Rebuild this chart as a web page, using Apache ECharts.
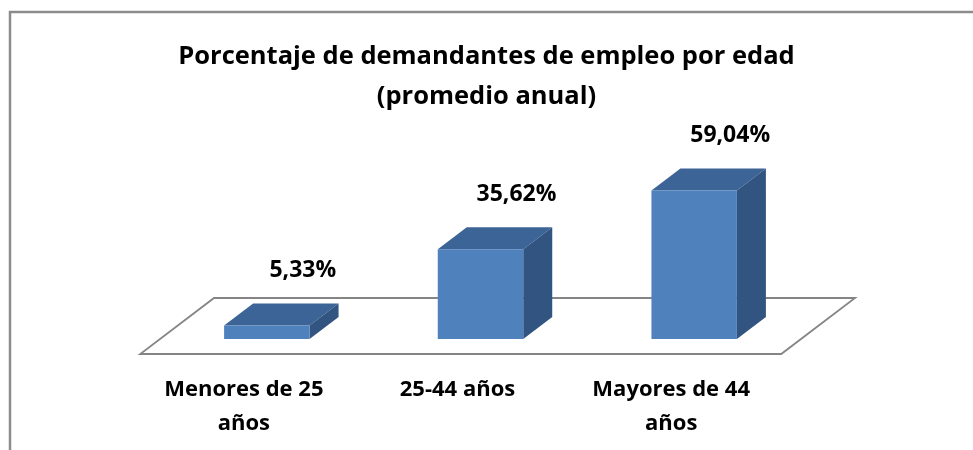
<!DOCTYPE html>
<html>
<head>
<meta charset="utf-8">
<script src="https://cdn.jsdelivr.net/npm/echarts@6/dist/echarts.min.js"></script>
<style>
  html, body { margin: 0; padding: 0; background: #fff; }
  #chart { width: 973px; height: 450px; }
</style>
</head>
<body>
<div id="chart"></div>
<script>
var categories = ["Menores de 25 años", "25-44 años", "Mayores de 44 años"];
var values = [5.33, 35.62, 59.04];

var FONT = "'Open Sans', 'DejaVu Sans', sans-serif";
// depth of the 3d boxes
var DEPTH_X = 29;
var DEPTH_Y = -22;
var FLOOR_FRONT = 15;
var FLOOR_BACK = 41;

function formatPct(v) {
    return v.toFixed(2).replace(".", ",") + "%";
}

function renderFloor(params) {
    var cs = params.coordSys;
    var bottom = cs.y + cs.height;
    var k = DEPTH_X / -DEPTH_Y;
    var fl = cs.x - FLOOR_FRONT * k, fr = cs.x + cs.width - FLOOR_FRONT * k;
    var bl = cs.x + FLOOR_BACK * k, br = cs.x + cs.width + FLOOR_BACK * k;
    return {
        type: "polygon",
        shape: {points: [[bl, bottom - FLOOR_BACK], [br, bottom - FLOOR_BACK],
                         [fr, bottom + FLOOR_FRONT], [fl, bottom + FLOOR_FRONT]]},
        style: {fill: "#fff", stroke: "#858585", lineWidth: 1.8}
    };
}

function renderBar(params, api) {
    var idx = api.value(0);
    var val = api.value(1);
    var base = api.coord([idx, 0]);
    var top = api.coord([idx, val]);
    var band = api.size([1, 0])[0];
    var w = band * 0.4;
    var x0 = base[0] - w / 2, x1 = base[0] + w / 2;
    var y0 = base[1], y1 = top[1];
    var children = [];
    if (params.dataIndex === 0) {
        children.push(renderFloor(params));
    }
    children.push({
        type: "polygon",
        shape: {points: [[x0, y1], [x0 + DEPTH_X, y1 + DEPTH_Y], [x1 + DEPTH_X, y1 + DEPTH_Y], [x1, y1]]},
        style: {fill: "#3c6496"}
    });
    children.push({
        type: "polygon",
        shape: {points: [[x1, y1], [x1 + DEPTH_X, y1 + DEPTH_Y], [x1 + DEPTH_X, y0 + DEPTH_Y], [x1, y0]]},
        style: {fill: "#325480"}
    });
    children.push({
        type: "rect",
        shape: {x: x0, y: y1, width: w, height: y0 - y1},
        style: {fill: "#4f81bd"}
    });
    children.push({
        type: "text",
        x: base[0] + 36,
        y: y1 - 55,
        style: {
            text: formatPct(val),
            align: "center",
            verticalAlign: "middle",
            font: "bold 23px " + FONT,
            fill: "#000"
        }
    });
    return {type: "group", children: children};
}

var chart = echarts.init(document.getElementById("chart"));
var option = {
    backgroundColor: "#fff",
    animation: false,
    title: {
        text: "Porcentaje de demandantes de empleo por edad\n(promedio anual)",
        left: "center",
        top: 32,
        textStyle: {
            fontFamily: FONT,
            fontSize: 25.5,
            fontWeight: "bold",
            lineHeight: 40,
            color: "#000"
        }
    },
    graphic: [{
        type: "rect",
        shape: {x: 10, y: 12, width: 1000, height: 500},
        style: {fill: "none", stroke: "#8c8c8c", lineWidth: 2.5},
        silent: true
    }],
    grid: {left: 160, right: 172, top: 188, bottom: 111},
    xAxis: {
        type: "category",
        data: categories,
        axisLine: {show: false},
        axisTick: {show: false},
        axisLabel: {
            margin: 34,
            padding: [0, 46, 0, 0],
            fontFamily: FONT,
            fontSize: 22,
            fontWeight: "bold",
            lineHeight: 34,
            color: "#000",
            formatter: function (v) {
                return v.length > 12 ? v.replace(/ años$/, "\naños") : v;
            }
        }
    },
    yAxis: {
        type: "value",
        min: 0,
        max: 60,
        show: false
    },
    series: [{
        type: "custom",
        renderItem: renderBar,
        data: values.map(function (v, i) { return [i, v]; })
    }]
};
chart.setOption(option);
</script>
</body>
</html>
